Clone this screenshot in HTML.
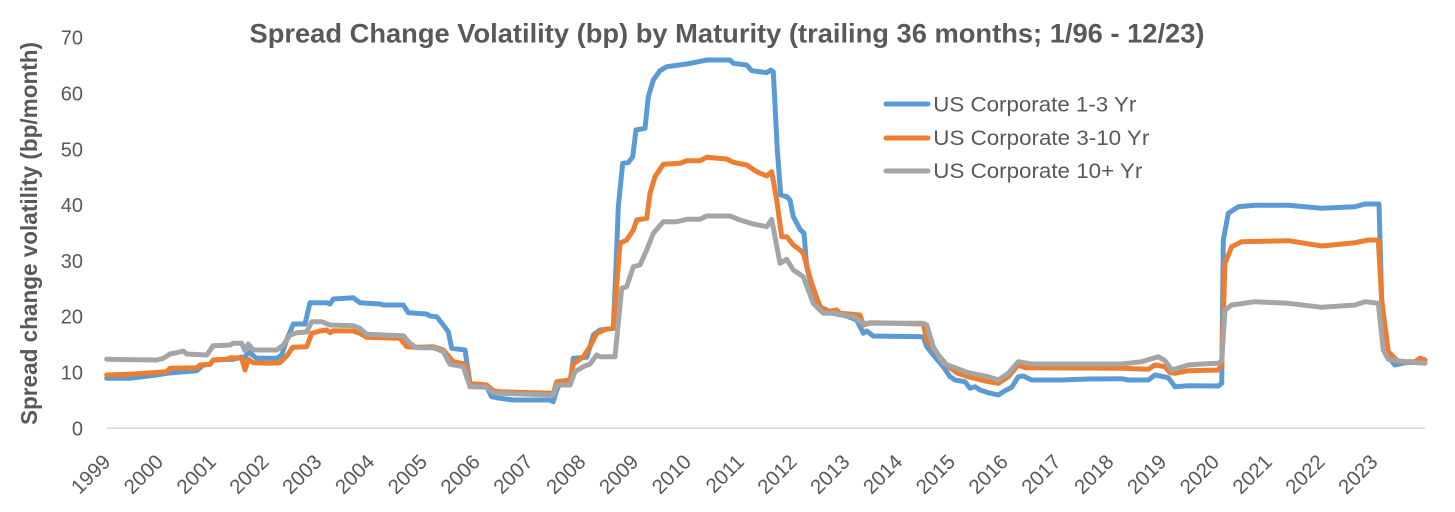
<!DOCTYPE html>
<html>
<head>
<meta charset="utf-8">
<style>
  html,body{margin:0;padding:0;background:#fff;}
  svg{display:block;}
  text{font-family:"Liberation Sans",sans-serif;fill:#595959;}
</style>
</head>
<body>
<svg width="1455" height="512" viewBox="0 0 1455 512" xmlns="http://www.w3.org/2000/svg">
  <rect width="1455" height="512" fill="#fff"/>
  <!-- Title -->
  <text x="249.5" y="42.7" font-size="27" font-weight="bold" textLength="955" lengthAdjust="spacingAndGlyphs">Spread Change Volatility (bp) by Maturity (trailing 36 months; 1/96 - 12/23)</text>

  <!-- Y axis title -->
  <text transform="translate(37,233.5) rotate(-90)" text-anchor="middle" font-size="23" font-weight="bold" textLength="383" lengthAdjust="spacingAndGlyphs">Spread change volatility (bp/month)</text>

  <!-- Y tick labels -->
  <g font-size="20" text-anchor="end">
    <text x="83" y="435.3">0</text>
    <text x="83" y="379.5">10</text>
    <text x="83" y="323.7">20</text>
    <text x="83" y="267.9">30</text>
    <text x="83" y="212.1">40</text>
    <text x="83" y="156.3">50</text>
    <text x="83" y="100.5">60</text>
    <text x="83" y="44.7">70</text>
  </g>

  <!-- X axis line -->
  <line x1="107" y1="428.3" x2="1425" y2="428.3" stroke="#D9D9D9" stroke-width="1.5"/>

  <!-- X tick labels -->
  <g font-size="20.5" text-anchor="end">
    <text transform="translate(111.7,463) rotate(-45)">1999</text>
    <text transform="translate(164.5,463) rotate(-45)">2000</text>
    <text transform="translate(217.3,463) rotate(-45)">2001</text>
    <text transform="translate(270.1,463) rotate(-45)">2002</text>
    <text transform="translate(322.9,463) rotate(-45)">2003</text>
    <text transform="translate(375.7,463) rotate(-45)">2004</text>
    <text transform="translate(428.5,463) rotate(-45)">2005</text>
    <text transform="translate(481.3,463) rotate(-45)">2006</text>
    <text transform="translate(534.1,463) rotate(-45)">2007</text>
    <text transform="translate(586.9,463) rotate(-45)">2008</text>
    <text transform="translate(639.7,463) rotate(-45)">2009</text>
    <text transform="translate(692.5,463) rotate(-45)">2010</text>
    <text transform="translate(745.3,463) rotate(-45)">2011</text>
    <text transform="translate(798.1,463) rotate(-45)">2012</text>
    <text transform="translate(850.9,463) rotate(-45)">2013</text>
    <text transform="translate(903.7,463) rotate(-45)">2014</text>
    <text transform="translate(956.5,463) rotate(-45)">2015</text>
    <text transform="translate(1009.3,463) rotate(-45)">2016</text>
    <text transform="translate(1062.1,463) rotate(-45)">2017</text>
    <text transform="translate(1114.9,463) rotate(-45)">2018</text>
    <text transform="translate(1167.7,463) rotate(-45)">2019</text>
    <text transform="translate(1220.5,463) rotate(-45)">2020</text>
    <text transform="translate(1273.3,463) rotate(-45)">2021</text>
    <text transform="translate(1326.1,463) rotate(-45)">2022</text>
    <text transform="translate(1378.9,463) rotate(-45)">2023</text>
  </g>

  <g fill="none" stroke-width="5" stroke-linejoin="round" stroke-linecap="round">
    <!-- Blue: 1-3 Yr -->
    <polyline stroke="#5B9BD5" points="
      106.7,378.3 130,378.3 156.7,375 166.7,373.3 196.7,370.7 203.3,365 210,364.3 213.3,360 233.3,359.3 240,357.3 245,357.3 248.3,351.7 256.7,358.3 276.7,358.3 281.7,355 286.7,340 293.3,324 305,324 310,302.7 326.7,302.7 330,304 333.3,299 353.3,297.7 360,302.7 380,304 383.3,305 403.3,305 408.3,312.7 426.7,314 430,316 436.7,316.7 443.3,325 448.3,331.7 451.7,348.3 465,350 470,383.3 473.3,386 486.7,386.7 491.7,396.7 500,398.3
      513.3,400 550,400 553.3,401.7 556.7,390 559.3,385 570,385 573.3,358.3 586.7,357.3 590,346.7 593.3,335 600,330 613.3,328.3 616,266.7 618.3,206.7 622.7,163.3 628.3,162.7 632.7,156.7 636,130 645,128.3 648.3,96.7 653.3,80 660,70.7 666.7,66.7 686.7,64 693.3,62.7 706.7,60 730,60 733.3,63.3 746.7,65 751.7,70.7 766.7,72.7 770.7,70 773.3,71.7 777.3,150 780.7,195 786.7,196.7 790,200 793.3,216.7 800,229.3 804,233.3 806.7,266.7 811.7,286.7 820,306.7 833.3,313.3 846.7,316 856.7,320 863.3,333.3 866.7,331 873.3,336 923.3,336.7 926.7,346.7 933.3,355 943.3,366.7 950,376.7 955,380
      965,381.7 970,388.3 975,386.7 980,390 988.3,392.7 998.3,395 1005,390.7 1011.7,387.3 1018.3,376.7 1023.3,376 1031.7,380 1061.7,380 1088.3,379 1121.7,378.7 1128.3,380 1148.3,380 1155,375 1168.3,377.7 1175,386.7 1188.3,385.7 1218.3,386 1221.7,383.3 1223.3,240 1228.3,213.3 1238.3,206.7 1255,205.3 1288.3,205.3 1321.7,208.3 1355,206.7 1365,204 1379,204 1381.7,300 1385,353.3 1395,365 1405,362.7 1425,361.7"/>
    <!-- Orange: 3-10 Yr -->
    <polyline stroke="#ED7D31" points="
      106.7,375 133.3,374 166.7,371.7 170,368.3 196.7,367.7 200,365 210,364.3 213.3,360 226.7,359.3 230,357.7 241.7,358.3 245,370 248.3,359.3 253.3,362.7 270,363.3 280,362.7 286.7,356 292.7,347.3 306.7,346.7 311.7,333.3 320,331 326.7,330 330,332.7 333.3,330.7 353.3,331 360,333.3 366.7,337.3 400,338.3 406.7,346.7 416.7,347.3 433.3,346.7 443.3,350 453.3,361.7 465,364 470,383.3 486.7,385 493.3,390.7 500,391.7
      553.3,393.3 556.7,381.7 570,380 573.3,364 583.3,356.7 590,346.7 596.7,333.3 606.7,329 613.3,328.3 620,243.3 626.7,240 633.3,230 636.7,220 646.7,218.3 650,193.3 655,176.7 663.3,164.3 680,163.3 686.7,160.7 700,160.7 706.7,157.3 726.7,159 733.3,162.3 746.7,165 756.7,171.7 766.7,176 771.7,171.7 776.7,200 781.7,236.7 786.7,236.7 793.3,245 800,250 803.3,253.3 811.7,283.3 820,306.7 826.7,311.7 836.7,310 840,313.3 860,315 863.3,325 870,322.7 923.3,324 926.7,340 936.7,353.3 946.7,365 956.7,372.7
      968.3,376.7 988.3,381.7 998.3,383.3 1008.3,376.7 1018.3,365 1025,367.7 1121.7,368.3 1148.3,369.3 1155,365 1165,366.7 1170,372.7 1175,373.3 1188.3,370.7 1218.3,370 1221.7,364 1225,263.3 1231.7,246.7 1241.7,241.7 1288.3,240.7 1321.7,246 1355,242.7 1368.3,240 1378.3,240 1381.7,300 1388.3,351.7 1398.3,361.7 1415,361.7 1420,358.3 1425,360"/>
    <!-- Gray: 10+ Yr -->
    <polyline stroke="#A5A5A5" points="
      106.7,359.3 156.7,360 163.3,358.3 170,354 176.7,352.7 183.3,351 186.7,354 206.7,355 213.3,345.7 230,345 233.3,343.3 241.7,343.3 245,350.7 248.3,344 253.3,350 276.7,350 283.3,345 290,335 296.7,332.7 306.7,332 311.7,321.7 321.7,321.7 330,325 353.3,325.7 360,328.3 366.7,334.3 403.3,335.7 410,343.3 416.7,347.7 433.3,347.7 443.3,351.7 450,364.3 463.3,366.7 470,386.7 486.7,387.3 493.3,392.7 500,393.3
      553.3,395 556.7,385 570,385 575,371.7 583.3,366.7 590,364 596.7,355 600,356.7 615,356.7 621.7,288.3 626.7,286.7 633.3,266.7 640,265 646.7,250 653.3,233.3 663.3,221.7 676.7,221.7 686.7,219.3 700,219.3 706.7,216 730,216 740,220 753.3,224 766.7,226.7 771.7,219.3 780,263.3 786.7,259.3 793.3,270 803.3,276.7 813.3,303.3 823.3,313.3 836.7,313.3 853.3,316.7 863.3,323.3 923.3,323.3 926.7,325 933.3,346.7 943.3,363.3 956.7,368.3
      968.3,372.7 988.3,376.7 998.3,380 1008.3,373.3 1018.3,361.7 1031.7,364 1121.7,364 1141.7,361.7 1158.3,356.7 1165,360.7 1171.7,370 1188.3,365 1201.7,364 1218.3,363.3 1221.7,360.7 1225,310 1231.7,305 1255,301.7 1288.3,303.3 1321.7,307.3 1355,305 1365,301.7 1378.3,303.3 1383.3,350 1388.3,359.3 1405,361.7 1425,363.3"/>
  </g>

  <!-- Legend -->
  <g stroke-width="5" stroke-linecap="round">
    <line x1="886" y1="104" x2="928" y2="104" stroke="#5B9BD5"/>
    <line x1="886" y1="138" x2="928" y2="138" stroke="#ED7D31"/>
    <line x1="886" y1="171" x2="928" y2="171" stroke="#A5A5A5"/>
  </g>
  <g font-size="21">
    <text x="933.3" y="111.7" textLength="203" lengthAdjust="spacingAndGlyphs">US Corporate 1-3 Yr</text>
    <text x="933.3" y="145" textLength="216" lengthAdjust="spacingAndGlyphs">US Corporate 3-10 Yr</text>
    <text x="933.3" y="178" textLength="209" lengthAdjust="spacingAndGlyphs">US Corporate 10+ Yr</text>
  </g>
</svg>
</body>
</html>
